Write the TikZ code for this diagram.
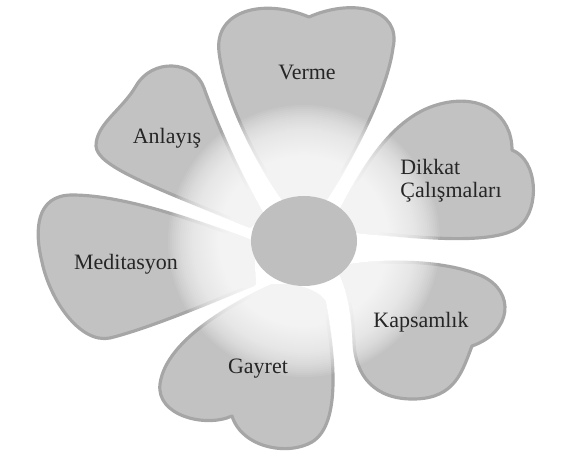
\documentclass[tikz,border=0pt]{standalone}
\usepackage{fontspec}
\setmainfont{Liberation Serif}

\begin{document}
\begin{tikzpicture}[x=0.02cm, y=-0.02cm,
    petal/.style={fill=gray!48, draw=gray!70, line width=1.8pt, line join=round},
    word/.style={font=\fontsize{12.5}{13}\selectfont, text=black!85}]
    \useasboundingbox (0,0) rectangle (576,456);

    % Petal Verme
    \draw[petal] (296,215) .. controls (270,185) and (226,110) .. (219,52)
        .. controls (214,10) and (264,-2) .. (309,17)
        .. controls (352,-2) and (402,8) .. (393,48)
        .. controls (386,100) and (340,180) .. (314,215) -- cycle;

    % Petal Dikkat
    \draw[petal] (335,222) .. controls (355,185) and (385,118) .. (440,104)
        .. controls (482,93) and (512,115) .. (512,150)
        .. controls (538,160) and (540,208) .. (520,226)
        .. controls (498,245) and (425,238) .. (385,234)
        .. controls (365,232) and (345,232) .. (335,222) -- cycle;

    % Petal Kapsamlik
    \draw[petal] (338,268) .. controls (365,262) and (435,256) .. (482,276)
        .. controls (516,292) and (512,332) .. (472,346)
        .. controls (462,372) and (455,398) .. (415,399)
        .. controls (374,400) and (355,375) .. (354,342)
        .. controls (353,310) and (348,285) .. (338,268) -- cycle;

    % Petal Gayret
    \draw[petal] (272,286) .. controls (240,300) and (166,338) .. (160,384)
        .. controls (156,416) and (206,428) .. (232,416)
        .. controls (242,448) and (288,456) .. (312,442)
        .. controls (342,424) and (334,352) .. (324,302)
        .. controls (316,290) and (292,284) .. (272,286) -- cycle;

    % Petal Meditasyon
    \draw[petal] (252,242) .. controls (200,222) and (125,195) .. (72,195)
        .. controls (36,195) and (34,230) .. (42,262)
        .. controls (50,300) and (80,344) .. (110,338)
        .. controls (150,328) and (212,302) .. (254,284) -- cycle;

    % Petal Anlayis
    \draw[petal] (262,214) .. controls (242,180) and (216,122) .. (204,88)
        .. controls (194,60) and (152,58) .. (136,86)
        .. controls (122,110) and (96,124) .. (96,146)
        .. controls (97,166) and (150,186) .. (250,226) -- cycle;

    % Glow
    \foreach \r in {136,134,...,50}
        \fill[white, opacity=0.08] (304,241) circle (\r);

    % Centre
    \fill[gray!50] (304,241) ellipse (53 and 45);

    % Labels
    \node[word] (verme) at (307,72) {Verme};
    \node[word, align=left] (dikkat) at (451,181) {Dikkat\\Çalışmaları};
    \node[word] (kapsam) at (421,322) {Kapsamlık};
    \node[word] (gayret) at (258,369) {Gayret};
    \node[word] (medit) at (126,264) {Meditasyon};
    \node[word] (anlayis) at (167,138) {Anlayış};
\end{tikzpicture}
\end{document}
